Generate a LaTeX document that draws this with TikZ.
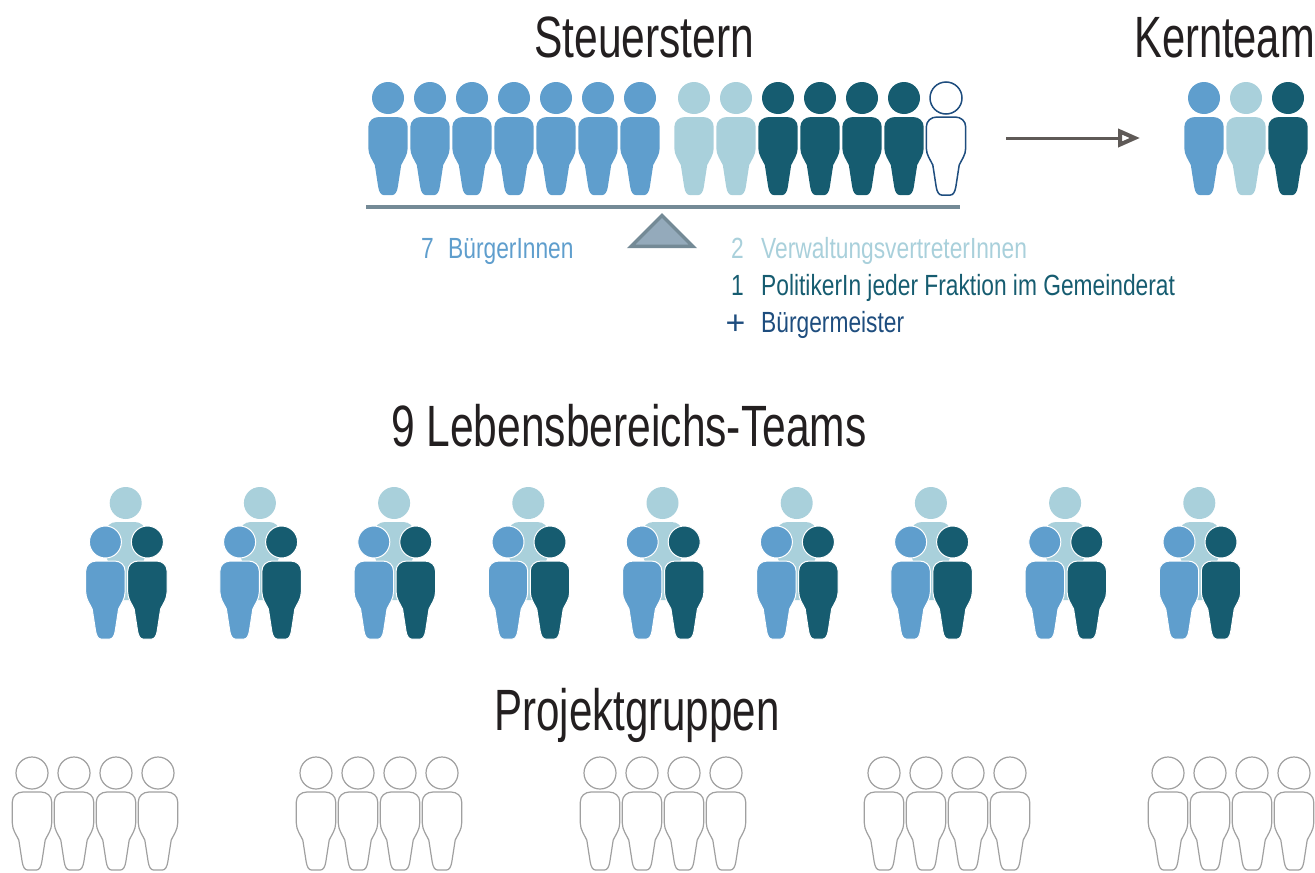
\documentclass[tikz,border=0pt]{standalone}
\usepackage{fontspec}
\setmainfont[FakeStretch=0.73]{Liberation Sans}
\newfontfamily\kernfam[FakeStretch=0.715]{Liberation Sans}
\newfontfamily\projfam[FakeStretch=0.722]{Liberation Sans}
\newfontfamily\smallfam[FakeStretch=0.78]{Liberation Sans}
\newfontfamily\plusfam{Liberation Sans}
\usetikzlibrary{arrows.meta}
\definecolor{pblue}{HTML}{5F9ECD}
\definecolor{plight}{HTML}{A9D0DB}
\definecolor{pdark}{HTML}{165C70}
\definecolor{pnavy}{HTML}{1E4D7E}
\definecolor{pink2}{HTML}{231F20}
\definecolor{beamc}{HTML}{748A96}
\definecolor{triin}{HTML}{94AABB}
\definecolor{arrc}{HTML}{5F5A57}
\definecolor{pgray}{HTML}{A0A0A0}
\tikzset{
  person/.pic={
    \path[pic actions] (0,0) circle[radius=16];
    \path[pic actions] (-9,19) -- (9,19) .. controls (15,19) and (19.7,23) .. (19.7,29)
      -- (19.7,50) .. controls (19.7,57) and (15.5,62) .. (13.2,67)
      -- (9.8,89) .. controls (9,94) and (7,97) .. (4.5,97)
      -- (-4.5,97) .. controls (-7,97) and (-9,94) .. (-9.8,89)
      -- (-13.2,67) .. controls (-15.5,62) and (-19.7,57) .. (-19.7,50)
      -- (-19.7,29) .. controls (-19.7,23) and (-15,19) .. (-9,19) -- cycle;
  },
  heading/.style={anchor=base west,inner sep=0pt,text=pink2,font=\fontsize{58.5}{60}\selectfont},
  small/.style={anchor=base west,inner sep=0pt,font=\smallfam\fontsize{29.3}{30}\selectfont},
  front/.style={draw=white,line width=1bp},
  outl/.style={draw=pgray,fill=white,line width=1.2bp}
}
\begin{document}
\begin{tikzpicture}[x=1bp,y=-1bp]
\useasboundingbox (0,0) rectangle (1315,872);
% Steuerstern
\node[heading] (steuer) at (534,57) {Steuerstern};
\node[heading] (kern) at (1134,57) {\kernfam Kernteam};
\foreach \x in {388,430,472,514,556,598,640} \pic[fill=pblue] at (\x,98) {person};
\foreach \x in {694,736} \pic[fill=plight] at (\x,98) {person};
\foreach \x in {778,820,862,904} \pic[fill=pdark] at (\x,98) {person};
\pic[draw=pnavy,fill=white,line width=1.5bp] at (946,98) {person};
% Kernteam
\pic[fill=pblue] at (1204,98) {person};
\pic[fill=plight] at (1246,98) {person};
\pic[fill=pdark] at (1288,98) {person};
% arrow
\coordinate (arrA) at (1006,138);
\coordinate (arrB) at (1140,138);
\draw[arrc,line width=3bp,-{Triangle[open,length=22bp,width=18bp,line width=4bp,fill=white]}] (arrA) -- (arrB);
% balance
\coordinate (beamL) at (366,207);
\coordinate (beamR) at (960,207);
\draw[beamc,line width=4bp] (beamL) -- (beamR);
\draw[beamc,fill=triin,line width=3.5bp,miter limit=10] (662,215.5) -- (692.8,246.3) -- (631.2,246.3) -- cycle;
% labels
\node[small,text=pblue] (n7) at (421,258) {7};
\node[small,text=pblue] (t7) at (448,258) {BürgerInnen};
\node[small,text=plight] (n2) at (731,258) {2};
\node[small,text=plight] (t2) at (761,258) {VerwaltungsvertreterInnen};
\node[small,text=pdark] (n1) at (731,295) {1};
\node[small,text=pdark] (t1) at (761,295) {PolitikerIn jeder Fraktion im Gemeinderat};
\node[anchor=base west,inner sep=0pt,text=pnavy,font=\plusfam\fontsize{34}{34}\selectfont] (npl) at (725.5,334) {+};
\node[small,text=pnavy] (tpl) at (761,332) {Bürgermeister};
% Teams
\node[heading] (leb) at (391,446) {9 Lebensbereichs-Teams};
\foreach \x in {125.7,259.9,394.1,528.3,662.5,796.7,930.9,1065.1,1199.3} {
  \pic[fill=plight] at (\x,503) {person};
  \pic[fill=pblue,front] at (\x-20.3,542) {person};
  \pic[fill=pdark,front] at (\x+21.7,542) {person};
}
% Projektgruppen
\node[heading] (proj) at (494,730) {\projfam Projektgruppen};
\foreach \g in {32,316,600,884,1168} \foreach \d in {0,42,84,126}
  \pic[outl] at (\g+\d,773) {person};
\end{tikzpicture}
\end{document}
